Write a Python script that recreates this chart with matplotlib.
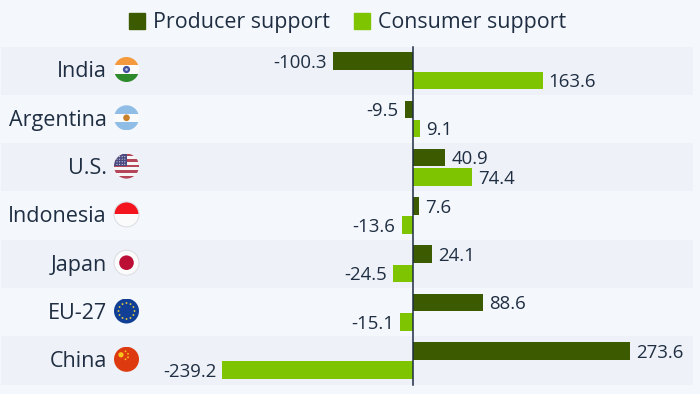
import matplotlib
matplotlib.use("Agg")
import matplotlib.pyplot as plt
from matplotlib.patches import Circle, Rectangle
import numpy as np

countries = ["India", "Argentina", "U.S.", "Indonesia", "Japan", "EU-27", "China"]
producer = [-100.3, -9.5, 40.9, 7.6, 24.1, 88.6, 273.6]
consumer = [163.6, 9.1, 74.4, -13.6, -24.5, -15.1, -239.2]
series_names = ["Producer support", "Consumer support"]

BG = "#f4f7fb"; BAND = "#eef1f7"; DARK = "#3c5a00"; LIGHT = "#7fc400"; TEXT = "#1f2e42"
plt.rcParams["font.family"] = ["Open Sans", "DejaVu Sans"]

W, H = 700, 394
fig = plt.figure(figsize=(W/100, H/100), dpi=100, facecolor=BG)

# data axes
ax = fig.add_axes([0, 0, 1, 1], zorder=1)
ax.patch.set_alpha(0); ax.axis("off")
X0, SX = 412.5, 0.795
Y0, SY = 70.7, 48.3
ax.set_xlim(-X0/SX, (W-X0)/SX)
ax.set_ylim((H-Y0)/SY, -Y0/SY)

# pixel axes for legend and flags
px = fig.add_axes([0, 0, 1, 1], zorder=2)
px.patch.set_alpha(0)
px.set_xlim(0, W); px.set_ylim(H, 0); px.axis("off")

pos = np.arange(len(countries))
for i in pos[::2]:
    ax.axhspan(i-0.5, i+0.5, xmin=0.002, xmax=0.99, color=BAND, lw=0, zorder=0)
off, bh = 0.2, 0.365
ax.barh(pos-off, producer, height=bh, color=DARK, zorder=2)
ax.barh(pos+off, consumer, height=bh, color=LIGHT, zorder=2)
ax.plot([0, 0], [-0.5, len(countries)-0.5], color=TEXT, lw=1.1, zorder=3)

for y, vals in ((pos-off, producer), (pos+off, consumer)):
    for yi, v in zip(y, vals):
        ax.annotate(f"{v:.1f}", (v, yi), xytext=(4.4 if v > 0 else -4.4, -1.2), textcoords="offset points",
                    ha="left" if v > 0 else "right", va="center", fontsize=13.4, color=TEXT, zorder=4)
for i, c in zip(pos, countries):
    ax.annotate(c, (0, i), xycoords=("axes fraction", "data"), xytext=(76.8, -0.8), textcoords="offset points",
                ha="right", va="center", fontsize=15.5, color=TEXT, zorder=4)

# legend
px.add_patch(Rectangle((128.5, 13), 16, 16, color=DARK))
px.add_patch(Rectangle((353.5, 13), 16, 16, color=LIGHT))
px.text(153, 22, series_names[0], fontsize=15.4, color=TEXT, va="center", ha="left")
px.text(378, 22, series_names[1], fontsize=15.4, color=TEXT, va="center", ha="left")

# flags
CX, R = 126.5, 12.5
def flag(row):
    cy = 70.5 + row*SY - 1
    clip = Circle((CX, cy), R, transform=px.transData)
    def rect(y0, y1, col, x0=-R, x1=R):
        p = Rectangle((CX+x0, cy+y0), x1-x0, y1-y0, color=col, lw=0, zorder=3)
        px.add_patch(p); p.set_clip_path(clip)
    def disc(dx, dy, r, col):
        p = Circle((CX+dx, cy+dy), r, color=col, lw=0, zorder=4)
        px.add_patch(p); p.set_clip_path(clip)
    return rect, disc, cy

rect, disc, cy = flag(0)
rect(-R, -R/3, "#f59a3c"); rect(-R/3, R/3, "#fbfbfb"); rect(R/3, R, "#2f8a2c"); disc(0, 0, 3.6, "#3f4f9c"); disc(0, 0, 1.3, "#c9cbe6")
rect, disc, cy = flag(1)
rect(-R, -R/3, "#8fbde6"); rect(-R/3, R/3, "#fbfbfb"); rect(R/3, R, "#8fbde6"); disc(0, 0, 3.3, "#c9822a")
rect, disc, cy = flag(2)
for k in range(9):
    rect(-R + k*2*R/9, -R + (k+1)*2*R/9, "#b5465a" if k % 2 == 0 else "#f6f6f6")
rect(-R, -0.6, "#4a4a80", -R, 0.5)
for dx in np.arange(-9.5, 0, 2.6):
    for dy in np.arange(-9.5, -1, 2.6):
        disc(dx, dy, 0.55, "#e4e6f2")
rect, disc, cy = flag(3)
rect(-R, 0, "#f3141e"); rect(0, R, "#fbfbfb")
rect, disc, cy = flag(4)
rect(-R, R, "#fbfbfb"); disc(0, 0, 7.3, "#bc0f36")
rect, disc, cy = flag(5)
rect(-R, R, "#123f96")
for a in np.arange(0, 360, 30):
    disc(8*np.cos(np.radians(a)), 8*np.sin(np.radians(a)), 0.9, "#e8d33a")
rect, disc, cy = flag(6)
rect(-R, R, "#dd3a10")
disc(-5.5, -4.5, 2.6, "#f8c51e")
for dx, dy in ((-1, -8), (1.5, -5.5), (1.5, -2), (-1, 0)):
    disc(dx, dy, 0.9, "#f8c51e")
for row in (3, 4):
    cyy = 70.5 + row*SY - 1
    px.add_patch(Circle((CX, cyy), R, fill=False, ec="#dcdfe4", lw=0.8, zorder=5))

fig.savefig("out.png", dpi=100, facecolor=BG)
